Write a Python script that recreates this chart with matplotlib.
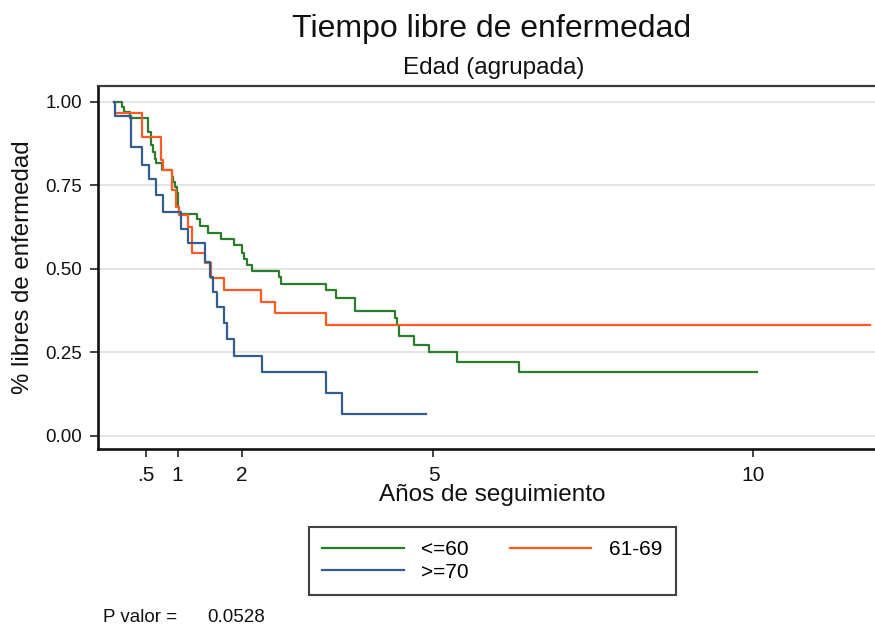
import matplotlib
matplotlib.use("Agg")
import matplotlib.pyplot as plt

plt.rcParams['font.family'] = ['Liberation Sans', 'DejaVu Sans']

# Kaplan-Meier curves per age group: event times (years) and survival after each step
green_t = [0, 0.13, 0.17, 0.26, 0.54, 0.58, 0.62, 0.65, 0.67, 0.75, 0.91, 0.935, 0.96,
           0.99, 1.01, 1.03, 1.31, 1.35, 1.48, 1.675, 1.89, 2.01, 2.04, 2.09, 2.16,
           2.58, 2.62, 3.32, 3.47, 3.77, 4.40, 4.43, 4.46, 4.69, 4.93, 5.36, 6.33, 10.05]
green_s = [1.0, 0.985, 0.97, 0.95, 0.91, 0.871, 0.85, 0.83, 0.816, 0.795, 0.774, 0.761,
           0.746, 0.726, 0.686, 0.664, 0.648, 0.628, 0.606, 0.588, 0.571, 0.546, 0.528,
           0.511, 0.494, 0.476, 0.454, 0.436, 0.413, 0.373, 0.352, 0.332, 0.298, 0.273,
           0.25, 0.221, 0.192, 0.192]

orange_t = [0, 0.03, 0.44, 0.74, 0.77, 0.91, 0.97, 1.03, 1.17, 1.22, 1.43, 1.53, 1.73,
            2.31, 2.52, 3.32, 11.82]
orange_s = [1.0, 0.966, 0.895, 0.826, 0.796, 0.736, 0.686, 0.661, 0.626, 0.546, 0.516,
            0.471, 0.436, 0.401, 0.366, 0.331, 0.331]

blue_t = [0, 0.02, 0.28, 0.45, 0.55, 0.66, 0.78, 1.05, 1.16, 1.43, 1.51, 1.56, 1.62,
          1.73, 1.78, 1.88, 2.32, 3.32, 3.57, 4.88]
blue_s = [1.0, 0.958, 0.865, 0.81, 0.77, 0.72, 0.67, 0.62, 0.576, 0.521, 0.476, 0.431,
          0.384, 0.336, 0.29, 0.239, 0.192, 0.127, 0.065, 0.065]

group_labels = ['<=60', '61-69', '>=70']
x_ticks = [0.5, 1, 2, 5, 10]
x_ticklabels = ['.5', '1', '2', '5', '10']
y_ticks = [0, 0.25, 0.5, 0.75, 1.0]
y_ticklabels = ['0.00', '0.25', '0.50', '0.75', '1.00']
p_value = '0.0528'

c_green = '#2b7d2b'
c_orange = '#ff5a24'
c_blue = '#335d8c'

fig = plt.figure(figsize=(8.75, 6.28), dpi=100)
ax = fig.add_axes([0.1117, 0.285, 0.8883, 0.5785])

for yt in y_ticks:
    ax.axhline(yt, color='#e4e4e4', lw=1.4, zorder=0)

l1, = ax.step(green_t, green_s, where='post', color=c_green, lw=1.6)
l2, = ax.step(orange_t, orange_s, where='post', color=c_orange, lw=1.6)
l3, = ax.step(blue_t, blue_s, where='post', color=c_blue, lw=1.6)

ax.set_xlim(-0.247, 11.90)
ax.set_ylim(-0.040, 1.048)

ax.set_xticks(x_ticks)
ax.set_xticklabels(x_ticklabels)
ax.set_yticks(y_ticks)
ax.set_yticklabels(y_ticklabels)
ax.tick_params(axis='x', length=6, width=1.1, pad=6.5, labelsize=15, colors='#111111')
ax.tick_params(axis='y', length=5.5, width=1.1, pad=6, labelsize=13.5, colors='#111111')

for side in ['left', 'bottom']:
    ax.spines[side].set_linewidth(1.9)
    ax.spines[side].set_color('#111111')
ax.spines['top'].set_linewidth(1.6)
ax.spines['top'].set_color('#3a3a3a')
ax.spines['right'].set_visible(False)

fig.text(0.562, 0.954, 'Tiempo libre de enfermedad', ha='center', va='center',
         fontsize=23, color='#111111')
fig.text(0.564, 0.892, 'Edad (agrupada)', ha='center', va='center',
         fontsize=17.5, color='#111111')
fig.text(0.563, 0.211, 'Años de seguimiento', ha='center', va='center',
         fontsize=17.5, color='#111111')
fig.text(0.026, 0.575, '% libres de enfermedad', ha='center', va='center',
         rotation=90, fontsize=17.3, color='#111111')

# legend laid out row-wise: <=60 | 61-69 on top, >=70 below
leg = fig.legend([l1, l3, l2], [group_labels[0], group_labels[2], group_labels[1]],
                 ncol=2, loc='upper center', bbox_to_anchor=(0.5625, 0.161),
                 borderaxespad=0, fontsize=15, frameon=True, fancybox=False,
                 handlelength=3.9, handletextpad=0.85, columnspacing=1.95,
                 borderpad=0.65, labelspacing=0.15, edgecolor='#111111')
leg.get_frame().set_linewidth(1.5)

fig.text(0.118, 0.0175, 'P valor =', ha='left', va='center', fontsize=13.5,
         color='#111111')
fig.text(0.2365, 0.0175, p_value, ha='left', va='center', fontsize=13.5,
         color='#111111')

fig.savefig('out.png', dpi=100)
